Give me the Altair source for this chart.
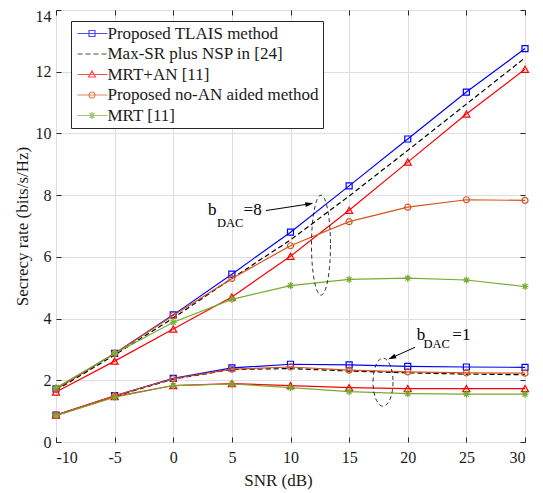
import altair as alt
import pandas as pd

# ---------------- data ----------------
snr = [-10, -5, 0, 5, 10, 15, 20, 25, 30]
series_names = ["Proposed TLAIS method", "Max-SR plus NSP in [24]", "MRT+AN [11]",
                "Proposed no-AN aided method", "MRT [11]"]
series_colors = ["#0000FF", "#000000", "#FF0000", "#D95319", "#77AC30"]

# b_DAC = 8
tlais_8 = [1.72, 2.87, 4.12, 5.44, 6.80, 8.30, 9.82, 11.34, 12.75]
maxsr_8 = [1.68, 2.82, 4.02, 5.30, 6.55, 7.97, 9.45, 10.95, 12.45]
mrtan_8 = [1.62, 2.62, 3.66, 4.70, 6.02, 7.51, 9.07, 10.63, 12.08]
noan_8 = [1.72, 2.87, 4.10, 5.30, 6.36, 7.14, 7.61, 7.85, 7.83]
mrt_8 = [1.76, 2.87, 3.88, 4.62, 5.07, 5.27, 5.31, 5.25, 5.04]
# b_DAC = 1
tlais_1 = [0.87, 1.50, 2.06, 2.40, 2.52, 2.50, 2.45, 2.43, 2.42]
maxsr_1 = [0.86, 1.48, 2.04, 2.35, 2.38, 2.30, 2.24, 2.20, 2.18]
mrtan_1 = [0.87, 1.47, 1.83, 1.89, 1.83, 1.76, 1.73, 1.73, 1.73]
noan_1 = [0.87, 1.50, 2.05, 2.36, 2.43, 2.33, 2.27, 2.24, 2.23]
mrt_1 = [0.85, 1.45, 1.83, 1.88, 1.76, 1.63, 1.57, 1.55, 1.55]

x_ticks = [-10, -5, 0, 5, 10, 15, 20, 25, 30]
y_ticks = [0, 2, 4, 6, 8, 10, 12, 14]

# annotations
ann_big_x = [2.96, 6.0, 20.76, 23.8]
ann_big_y = [7.36, 7.36, 3.31, 3.31]
ann_big_t = ["b", "=8", "b", "=1"]
ann_small_x = [3.73, 21.34]
ann_small_y = [6.97, 3.05]
ann_small_t = ["DAC", "DAC"]
arrow_x0 = [7.91, 20.62]
arrow_y0 = [7.50, 3.07]
arrow_hx = [11.61, 18.65]
arrow_hy = [7.716, 2.733]
arrow_ang = [351, 156]
ell8_x, ell8_y = [12.6], [6.38]
ell1_x, ell1_y = [17.89], [1.94]

FONT = "'Liberation Serif', 'Times New Roman', Times, serif"

rows = []
for name, v8, v1 in zip(series_names,
                        [tlais_8, maxsr_8, mrtan_8, noan_8, mrt_8],
                        [tlais_1, maxsr_1, mrtan_1, noan_1, mrt_1]):
    for s, a in zip(snr, v8):
        rows.append({"snr": s, "rate": a, "series": name, "bdac": "8"})
    for s, a in zip(snr, v1):
        rows.append({"snr": s, "rate": a, "series": name, "bdac": "1"})
df = pd.DataFrame(rows)


def ellipse(a, b, cx=0.0):
    k = 0.5523
    return (f"M{cx+a},0C{cx+a},{k*b} {cx+k*a},{b} {cx},{b}"
            f"C{cx-k*a},{b} {cx-a},{k*b} {cx-a},0"
            f"C{cx-a},{-k*b} {cx-k*a},{-b} {cx},{-b}"
            f"C{cx+k*a},{-b} {cx+a},{-k*b} {cx+a},0Z")


ASTER = "M-1,0L1,0M0,-1L0,1M-0.7,-0.7L0.7,0.7M-0.7,0.7L0.7,-0.7"
marker_shapes = ["square", None, "triangle-up", "circle", ASTER]
marker_sizes = [36, 0, 50, 36, 49]

LEG_LINE = "M-0.857,0L3.43,0"
legend_paths = [
    LEG_LINE + "M0.786,-0.43L1.643,-0.43L1.643,0.43L0.786,0.43Z",
    "M-0.857,0L-0.143,0M0.286,0L1,0M1.429,0L2.143,0M2.571,0L3.286,0",
    LEG_LINE + "M1.214,-0.5L1.714,0.36L0.714,0.36Z",
    LEG_LINE + ellipse(0.43, 0.43, 1.214),
    LEG_LINE + "M0.714,0L1.714,0M1.214,-0.5L1.214,0.5M0.86,-0.35L1.568,0.35M0.86,0.35L1.568,-0.35",
]

x_scale = alt.Scale(domain=[-10, 30], nice=False, zero=False)
y_scale = alt.Scale(domain=[0, 14], nice=False)

main_x_axis = alt.Axis(values=x_ticks, grid=True, gridColor="#dedede", domain=False,
                       tickSize=5, offset=-5, tickColor="#262626", labelFont=FONT,
                       labelFontSize=16, labelColor="#1a1a1a", labelPadding=7,
                       labelExpr="'' + datum.value",
                       title="SNR (dB)", titleFont=FONT, titleFontSize=17,
                       titleFontWeight="normal", titleColor="#1a1a1a",
                       titleX=222, titleY=48, titleBaseline="alphabetic")
main_y_axis = alt.Axis(values=y_ticks, grid=True, gridColor="#dedede", domain=False,
                       tickSize=5, offset=-5, tickColor="#262626", labelFont=FONT,
                       labelFontSize=16, labelColor="#1a1a1a", labelPadding=5,
                       labelExpr="'' + datum.value",
                       labelOffset={"condition": {"test": "datum.value == 14", "value": 6}, "value": 0},
                       title="Secrecy rate (bits/s/Hz)", titleFont=FONT, titleFontSize=17,
                       titleFontWeight="normal", titleColor="#1a1a1a",
                       titleX=-34, titleY=216, titleBaseline="alphabetic", titleAngle=270)
top_axis = alt.Axis(orient="top", values=x_ticks, labels=False, grid=False, domain=False,
                    tickSize=5, offset=-5, tickColor="#262626", title=None)
right_axis = alt.Axis(orient="right", values=y_ticks, labels=False, grid=False, domain=False,
                      tickSize=5, offset=-5, tickColor="#262626", title=None)

layers = []
for i, name in enumerate(series_names):
    sub = df[df.series == name]
    xa = main_x_axis if i == 0 else None
    ya = main_y_axis if i == 0 else None
    line_kw = dict(color=series_colors[i], strokeWidth=1.2)
    if marker_shapes[i] is None:
        line_kw["strokeDash"] = [5, 3]
    line = alt.Chart(sub).mark_line(**line_kw).encode(
        x=alt.X("snr:Q", scale=x_scale, axis=xa),
        y=alt.Y("rate:Q", scale=y_scale, axis=ya),
        detail="bdac:N",
    )
    layers.append(line)
    if marker_shapes[i] is not None:
        pts = alt.Chart(sub).mark_point(shape=marker_shapes[i], size=marker_sizes[i],
                                        filled=False, color=series_colors[i],
                                        strokeWidth=1.2, opacity=1).encode(
            x=alt.X("snr:Q", scale=x_scale, axis=None),
            y=alt.Y("rate:Q", scale=y_scale, axis=None),
        )
        layers.append(pts)

# top / right inward ticks
frame = alt.Chart(df).mark_point(opacity=0).encode(
    x=alt.X("snr:Q", scale=x_scale, axis=top_axis),
    y=alt.Y("rate:Q", scale=y_scale, axis=right_axis),
)
layers.append(frame)

# annotations
ell8 = alt.Chart(pd.DataFrame({"x": ell8_x, "y": ell8_y})).mark_point(
    shape=ellipse(0.19, 1.0), size=10000, filled=False, color="black",
    strokeWidth=0.8, strokeDash=[4, 3], opacity=1).encode(
    x=alt.X("x:Q", scale=x_scale, axis=None), y=alt.Y("y:Q", scale=y_scale, axis=None))
ell1 = alt.Chart(pd.DataFrame({"x": ell1_x, "y": ell1_y})).mark_point(
    shape=ellipse(0.417, 1.0), size=2304, filled=False, color="black",
    strokeWidth=0.8, strokeDash=[4, 3], opacity=1).encode(
    x=alt.X("x:Q", scale=x_scale, axis=None), y=alt.Y("y:Q", scale=y_scale, axis=None))
arrows_df = pd.DataFrame({"x0": arrow_x0, "y0": arrow_y0, "hx": arrow_hx,
                          "hy": arrow_hy, "ang": arrow_ang})
arrow_lines = alt.Chart(arrows_df).mark_rule(color="black", strokeWidth=1).encode(
    x=alt.X("x0:Q", scale=x_scale, axis=None), y=alt.Y("y0:Q", scale=y_scale, axis=None),
    x2="hx:Q", y2="hy:Q")
arrow_heads = alt.Chart(arrows_df).mark_point(
    shape="M1,0L-1,-0.6L-1,0.6Z", size=64, filled=True, color="black", opacity=1).encode(
    x=alt.X("hx:Q", scale=x_scale, axis=None), y=alt.Y("hy:Q", scale=y_scale, axis=None),
    angle=alt.Angle("ang:Q", scale=None))
txt_big = alt.Chart(pd.DataFrame({"x": ann_big_x, "y": ann_big_y, "t": ann_big_t})).mark_text(
    font=FONT, fontSize=17, align="left", baseline="alphabetic", color="black").encode(
    x=alt.X("x:Q", scale=x_scale, axis=None), y=alt.Y("y:Q", scale=y_scale, axis=None), text="t:N")
txt_small = alt.Chart(pd.DataFrame({"x": ann_small_x, "y": ann_small_y, "t": ann_small_t})).mark_text(
    font=FONT, fontSize=12.5, align="left", baseline="alphabetic", color="black").encode(
    x=alt.X("x:Q", scale=x_scale, axis=None), y=alt.Y("y:Q", scale=y_scale, axis=None), text="t:N")
layers += [ell8, ell1, arrow_lines, arrow_heads, txt_big, txt_small]

# legend layer (points clipped away, legend kept)
leg = alt.Legend(orient="none", legendX=15, legendY=11, title=None, fillColor="white",
                 strokeColor="#262626", padding=4, labelFont=FONT, labelFontSize=17,
                 labelColor="#1a1a1a", symbolSize=196, symbolStrokeWidth=1.2,
                 labelOffset=15.5, rowPadding=2.5, labelLimit=400, cornerRadius=0)
legend_df = pd.DataFrame({"series": series_names, "snr": [0] * 5, "rate": [-100] * 5})
legend_layer = alt.Chart(legend_df).mark_point(filled=False, clip=True, strokeWidth=1.2).encode(
    x=alt.X("snr:Q", scale=x_scale, axis=None),
    y=alt.Y("rate:Q", scale=y_scale, axis=None),
    color=alt.Color("series:N", scale=alt.Scale(domain=series_names, range=series_colors), legend=leg),
    shape=alt.Shape("series:N", scale=alt.Scale(domain=series_names, range=legend_paths), legend=leg),
)
layers.append(legend_layer)

chart = alt.layer(*layers).resolve_axis(x="independent", y="independent").properties(
    width=469, height=432,
    autosize=alt.AutoSizeParams(type="none"),
    padding={"left": 48, "top": 2, "right": 10, "bottom": 60},
    background="white",
).configure_view(stroke="#262626", strokeWidth=1)

chart.save("out.html", embed_options={"renderer": "svg", "actions": False})
